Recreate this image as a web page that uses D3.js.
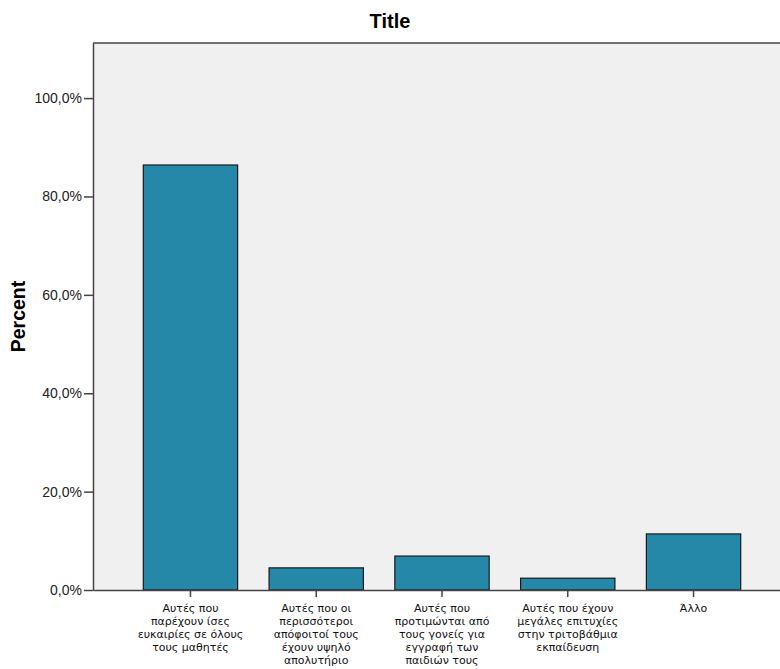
<!DOCTYPE html>
<html><head><meta charset="utf-8">
<script src="https://cdn.jsdelivr.net/npm/d3@7"></script>
<style>body{margin:0;background:#fff}svg{display:block;font-family:"Liberation Sans",Arial,sans-serif}</style>
</head><body>
<svg id="c" width="780" height="669"></svg>
<script>
const title = "Title";
const yLabel = "Percent";
const categories = [
  "Αυτές που\nπαρέχουν ίσες\nευκαιρίες σε όλους\nτους μαθητές",
  "Αυτές που οι\nπερισσότεροι\nαπόφοιτοί τους\nέχουν υψηλό\nαπολυτήριο",
  "Αυτές που\nπροτιμώνται από\nτους γονείς για\nεγγραφή των\nπαιδιών τους",
  "Αυτές που έχουν\nμεγάλες επιτυχίες\nστην τριτοβάθμια\nεκπαίδευση",
  "Άλλο"
];
const values = [86.4, 4.5, 6.9, 2.4, 11.4];
const yTicks = [0, 20, 40, 60, 80, 100];
const yMax = 111.2;

const svg = d3.select("#c");
const m = {left: 93, top: 43, right: 791, bottom: 590};

svg.append("rect").attr("x", m.left).attr("y", m.top)
  .attr("width", m.right - m.left).attr("height", m.bottom - m.top)
  .attr("fill", "#f0f0f0");

const x = d3.scaleBand().domain(categories).range([m.left, m.right])
  .paddingInner(0.25).paddingOuter(0.4);
const y = d3.scaleLinear().domain([0, yMax]).range([m.bottom, m.top]);

svg.append("g").selectAll("rect").data(values).join("rect")
  .attr("x", (d, i) => x(categories[i]))
  .attr("y", d => y(d))
  .attr("width", x.bandwidth())
  .attr("height", d => y(0) - y(d))
  .attr("fill", "#2588a9")
  .attr("stroke", "#1a1a1a").attr("stroke-width", 1.2);

svg.append("line").attr("x1", m.left).attr("x2", m.right).attr("y1", m.top).attr("y2", m.top)
  .attr("stroke", "#444").attr("stroke-width", 1.5);

const fmt = d => d3.format(".1f")(d).replace(".", ",") + "%";
const ya = svg.append("g").attr("transform", `translate(${m.left},0)`)
  .call(d3.axisLeft(y).tickValues(yTicks).tickFormat(fmt).tickSize(9).tickPadding(2).tickSizeOuter(0));
ya.select(".domain").attr("stroke", "#444").attr("stroke-width", 1.5);
ya.selectAll(".tick line").attr("stroke", "#444").attr("stroke-width", 1.5);
ya.selectAll(".tick text").attr("font-size", 14).attr("fill", "#222")
  .attr("font-family", "Liberation Sans, Arial, sans-serif");

const xa = svg.append("g").attr("transform", `translate(0,${m.bottom})`)
  .call(d3.axisBottom(x).tickSize(7).tickSizeOuter(0).tickFormat(""));
xa.select(".domain").attr("stroke", "#444").attr("stroke-width", 1.5);
xa.selectAll(".tick line").attr("stroke", "#444").attr("stroke-width", 1.5);

const lab = svg.append("g").selectAll("text").data(categories).join("text")
  .attr("text-anchor", "middle").attr("font-size", 11)
  .attr("font-family", "DejaVu Sans, sans-serif").attr("fill", "#111")
  .attr("transform", d => `translate(${x(d) + x.bandwidth() / 2},${m.bottom + 22})`);
lab.each(function(d) {
  d3.select(this).selectAll("tspan").data(d.split("\n")).join("tspan")
    .attr("x", 0).attr("y", (t, i) => i * 13).text(t => t);
});

svg.append("text").attr("x", 390).attr("y", 28).attr("text-anchor", "middle")
  .attr("font-size", 20).attr("font-weight", "bold").text(title);

svg.append("text").attr("transform", `translate(25,${(m.top + m.bottom) / 2}) rotate(-90)`)
  .attr("text-anchor", "middle").attr("font-size", 19.5).attr("font-weight", "bold").text(yLabel);
</script>
</body></html>
